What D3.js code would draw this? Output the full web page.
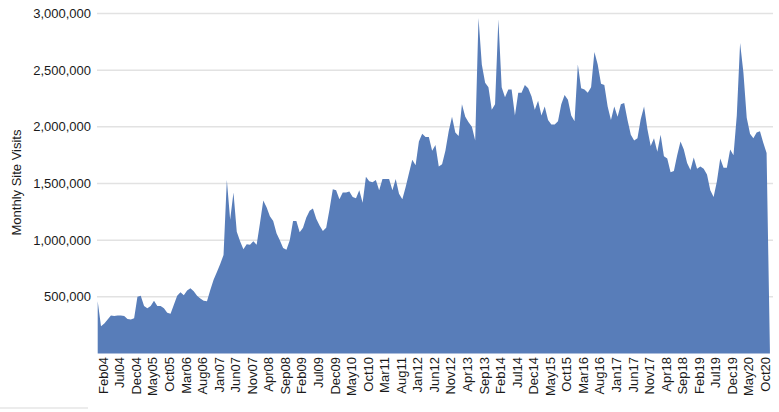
<!DOCTYPE html>
<html>
<head>
<meta charset="utf-8">
<script src="https://cdn.jsdelivr.net/npm/d3@7"></script>
<style>
  html, body { margin: 0; padding: 0; background: #fff; }
  svg { display: block; }
  text { font-family: "Liberation Sans", Arial, Helvetica, sans-serif; fill: #1a1a1a; }
</style>
</head>
<body>
<svg id="chart" width="779" height="412"></svg>
<script>
// Monthly site visits, Feb 2004 .. Jan 2021 (one value per month)
const visits = [
  460000, 240000, 265000, 300000, 335000, 330000, 335000, 335000, 330000, 305000, 300000, 310000,
  500000, 510000, 420000, 400000, 420000, 465000, 420000, 420000, 400000, 360000, 350000, 430000,
  510000, 540000, 515000, 555000, 575000, 550000, 510000, 485000, 465000, 460000, 560000, 650000,
  720000, 790000, 870000, 1530000, 1180000, 1420000, 1075000, 990000, 920000, 965000, 960000, 990000,
  960000, 1150000, 1350000, 1290000, 1210000, 1170000, 1060000, 1000000, 930000, 915000, 1000000, 1170000,
  1170000, 1070000, 1110000, 1200000, 1260000, 1280000, 1190000, 1130000, 1080000, 1110000, 1270000, 1450000,
  1440000, 1360000, 1420000, 1420000, 1430000, 1380000, 1370000, 1440000, 1330000, 1560000, 1520000, 1510000,
  1530000, 1440000, 1540000, 1540000, 1540000, 1440000, 1540000, 1410000, 1360000, 1470000, 1590000, 1710000,
  1660000, 1870000, 1940000, 1910000, 1910000, 1790000, 1840000, 1650000, 1670000, 1790000, 1960000, 2090000,
  1950000, 1920000, 2200000, 2090000, 2040000, 2000000, 1880000, 2960000, 2550000, 2390000, 2350000, 2150000,
  2200000, 2950000, 2350000, 2260000, 2330000, 2330000, 2100000, 2300000, 2300000, 2370000, 2340000, 2270000,
  2150000, 2230000, 2100000, 2180000, 2060000, 2020000, 2020000, 2050000, 2200000, 2280000, 2240000, 2100000,
  2050000, 2550000, 2340000, 2330000, 2300000, 2350000, 2660000, 2550000, 2380000, 2370000, 2180000, 2060000,
  2180000, 2090000, 2200000, 2210000, 2060000, 1930000, 1880000, 1900000, 2070000, 2180000, 1980000, 1830000,
  1900000, 1780000, 1930000, 1740000, 1720000, 1600000, 1610000, 1750000, 1870000, 1800000, 1680000, 1620000,
  1730000, 1630000, 1650000, 1630000, 1580000, 1440000, 1380000, 1520000, 1720000, 1640000, 1640000, 1800000,
  1750000, 2100000, 2740000, 2480000, 2080000, 1940000, 1900000, 1950000, 1960000, 1860000, 1770000, 30000
];

// x tick labels, one every 5 months starting at the first month
const tickLabels = [
  "Feb04","Jul04","Dec04","May05","Oct05","Mar06","Aug06","Jan07","Jun07","Nov07",
  "Apr08","Sep08","Feb09","Jul09","Dec09","May10","Oct10","Mar11","Aug11","Jan12",
  "Jun12","Nov12","Apr13","Sep13","Feb14","Jul14","Dec14","May15","Oct15","Mar16",
  "Aug16","Jan17","Jun17","Nov17","Apr18","Sep18","Feb19","Jul19","Dec19","May20","Oct20"
];
const tickStep = 5;

const yTicks = [500000, 1000000, 1500000, 2000000, 2500000, 3000000];
const yTitle = "Monthly Site Visits";

const svg = d3.select("#chart");

const x = d3.scaleLinear().domain([0, visits.length - 1]).range([97.7, 769.9]);
const y = d3.scaleLinear().domain([0, 3000000]).range([353.5, 13.5]);

// gridlines
svg.append("g")
  .selectAll("line")
  .data(yTicks)
  .join("line")
  .attr("x1", 97).attr("x2", 773)
  .attr("y1", d => y(d)).attr("y2", d => y(d))
  .attr("stroke", "#e2e2e2")
  .attr("stroke-width", 1.5);

// area
const area = d3.area()
  .x((d, i) => x(i))
  .y0(y(0))
  .y1(d => y(d));

svg.append("path")
  .datum(visits)
  .attr("d", area)
  .attr("fill", "#587db9");

// y axis labels
const fmt = d3.format(",");
svg.append("g")
  .selectAll("text")
  .data(yTicks)
  .join("text")
  .attr("x", 91)
  .attr("y", d => y(d))
  .attr("dy", "0.35em")
  .attr("text-anchor", "end")
  .style("font-size", "13px")
  .text(d => fmt(d));

// y title
svg.append("text")
  .attr("transform", "translate(16,182.5) rotate(-90)")
  .attr("text-anchor", "middle")
  .attr("dy", "0.35em")
  .style("font-size", "13px")
  .text(yTitle);

// x tick labels
svg.append("g")
  .selectAll("text")
  .data(tickLabels)
  .join("text")
  .attr("transform", (d, k) => `translate(${x(k * tickStep) + 5.5},357) rotate(-90)`)
  .attr("dy", "0.35em")
  .attr("text-anchor", "end")
  .style("font-size", "13px")
  .text(d => d);

// faint bottom-left rule
svg.append("line")
  .attr("x1", 0).attr("x2", 88)
  .attr("y1", 408).attr("y2", 408)
  .attr("stroke", "#ececec")
  .attr("stroke-width", 2);
</script>
</body>
</html>
